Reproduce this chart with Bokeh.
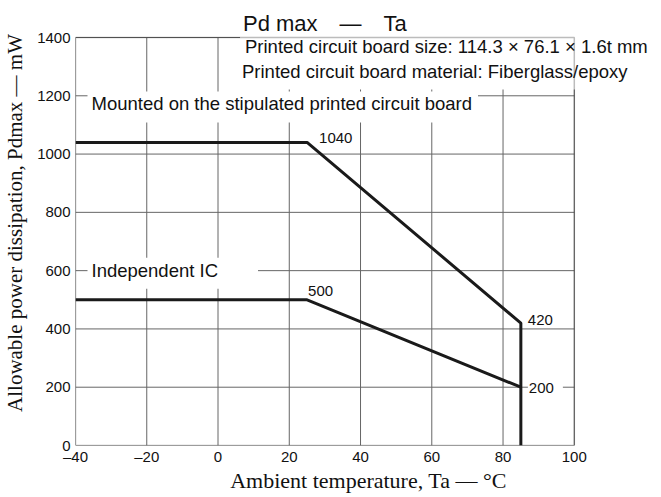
from bokeh.plotting import figure
from bokeh.models import Range1d, Label, BoxAnnotation
from bokeh.embed import file_html
from bokeh.resources import INLINE

# ---- data ----
title_text = "Pd max\u2002\u2002\u2014\u2002\u2002Ta"
x_label = "Ambient temperature, Ta \u2014 \u00b0C"
y_label = "Allowable power dissipation, Pdmax \u2014 mW"

x_ticks = [-40, -20, 0, 20, 40, 60, 80, 100]
x_tick_labels = ["\u201340", "\u201320", "0", "20", "40", "60", "80", "100"]
y_ticks = [0, 200, 400, 600, 800, 1000, 1200, 1400]

ta_board = [-40, 25, 85, 85]
pd_board = [1040, 1040, 420, 0]
ta_ic = [-40, 25, 85]
pd_ic = [500, 500, 200]

board_label = "Mounted on the stipulated printed circuit board"
ic_label = "Independent IC"
note_lines = ["Printed circuit board size: 114.3 \u00d7 76.1 \u00d7 1.6t mm",
              "Printed circuit board material: Fiberglass/epoxy"]

SANS = "Liberation Sans"
SERIF = "Liberation Serif"

# ---- layout (pixels) ----
W, H = 661, 497
FL, FR, FT, FB = 73, 573.5, 37, 445      # plotting box edges on the page
XR = (x_ticks[0], x_ticks[-1])
YR = (y_ticks[0], y_ticks[-1])
# the frame is extended to the right and top so that texts outside the box are not clipped
x_end = XR[1] + (W - FR) * (XR[1] - XR[0]) / (FR - FL)
y_end = YR[1] + FT * (YR[1] - YR[0]) / (FB - FT)

p = figure(width=W, height=H,
           x_range=Range1d(XR[0], x_end), y_range=Range1d(YR[0], y_end),
           output_backend="svg", toolbar_location=None,
           min_border_left=FL, min_border_right=0,
           min_border_top=0, min_border_bottom=H - FB)

p.background_fill_color = "white"
p.border_fill_color = "white"
p.outline_line_color = None
p.xgrid.visible = False
p.ygrid.visible = False

for ax in (p.xaxis[0], p.yaxis[0]):
    ax.axis_line_color = None
    ax.major_tick_in = 0
    ax.major_tick_out = 0
    ax.minor_tick_in = 0
    ax.minor_tick_out = 0
    ax.major_label_text_font = SANS
    ax.major_label_text_font_size = "15px"
    ax.major_label_text_color = "#111111"
    ax.axis_label_text_font = SERIF
    ax.axis_label_text_font_style = "normal"
    ax.axis_label_text_color = "#111111"

p.xaxis.ticker = x_ticks
p.xaxis.major_label_overrides = {t: l for t, l in zip(x_ticks, x_tick_labels)}
p.xaxis.bounds = XR
p.yaxis.ticker = y_ticks
p.yaxis.bounds = YR
p.xaxis.axis_label = x_label
p.yaxis.axis_label = y_label
p.xaxis.axis_label_text_font_size = "22px"
p.yaxis.axis_label_text_font_size = "21px"
p.xaxis.major_label_standoff = 2
p.xaxis.axis_label_standoff = 0
p.yaxis.major_label_standoff = 5
p.yaxis.axis_label_standoff = 7

# grid lines inside the box only
GRID = "#666666"
p.segment(x0=x_ticks, y0=[YR[0]] * len(x_ticks), x1=x_ticks, y1=[YR[1]] * len(x_ticks),
          line_color=GRID, line_width=1)
p.segment(x0=[XR[0]] * len(y_ticks), y0=y_ticks, x1=[XR[1]] * len(y_ticks), y1=y_ticks,
          line_color=GRID, line_width=1)

p.line(ta_board, pd_board, line_color="#1a1a1a", line_width=3)
p.line(ta_ic, pd_ic, line_color="#1a1a1a", line_width=3)


def lab(**kw):
    base = dict(text_font=SANS, text_color="#111111")
    base.update(kw)
    p.add_layout(Label(**base))


# title
lab(x=(XR[0] + XR[1]) / 2, y=YR[1], text=title_text, text_align="center",
    text_baseline="alphabetic", y_offset=14, text_font_size="22px")

# notes
lab(x=0, y=YR[1], text=note_lines[0], x_offset=22, y_offset=-27,
    text_font_size="18.5px", background_fill_color="white", padding=(5, 4, 2, 8))
lab(x=0, y=YR[1], text=note_lines[1], x_offset=22, y_offset=-52,
    text_font_size="18.5px", background_fill_color="white", padding=(2, 4, 2, 8))

# series labels
lab(x=ta_board[0], y=pd_board[0], text=board_label, x_offset=12, y_offset=20,
    text_font_size="18.5px", background_fill_color="white", padding=(4, 6, 2, 8))
lab(x=ta_ic[0], y=pd_ic[0], text=ic_label, x_offset=12, y_offset=11,
    text_font_size="18.5px", background_fill_color="white", padding=(4, 40, 2, 8))

# value labels
lab(x=ta_board[1], y=pd_board[1], text=str(pd_board[1]), x_offset=12, y_offset=-1,
    text_font_size="15px")
lab(x=ta_ic[1], y=pd_ic[1], text=str(pd_ic[1]), x_offset=1, y_offset=4,
    text_font_size="15px")
lab(x=ta_board[2], y=pd_board[2], text=str(pd_board[2]), x_offset=7, y_offset=3,
    text_baseline="middle", text_font_size="15px")
lab(x=ta_ic[2], y=pd_ic[2], text=str(pd_ic[2]), x_offset=7, y_offset=-1,
    text_baseline="middle", text_font_size="15px",
    background_fill_color="white", padding=(1, 9, 1, 2))

# plotting box outline
p.add_layout(BoxAnnotation(left=XR[0], right=XR[1], bottom=YR[0], top=YR[1],
                           fill_alpha=0, fill_color=None,
                           line_color="#222222", line_width=1.5))

open("out.html", "w").write(file_html(p, INLINE))
